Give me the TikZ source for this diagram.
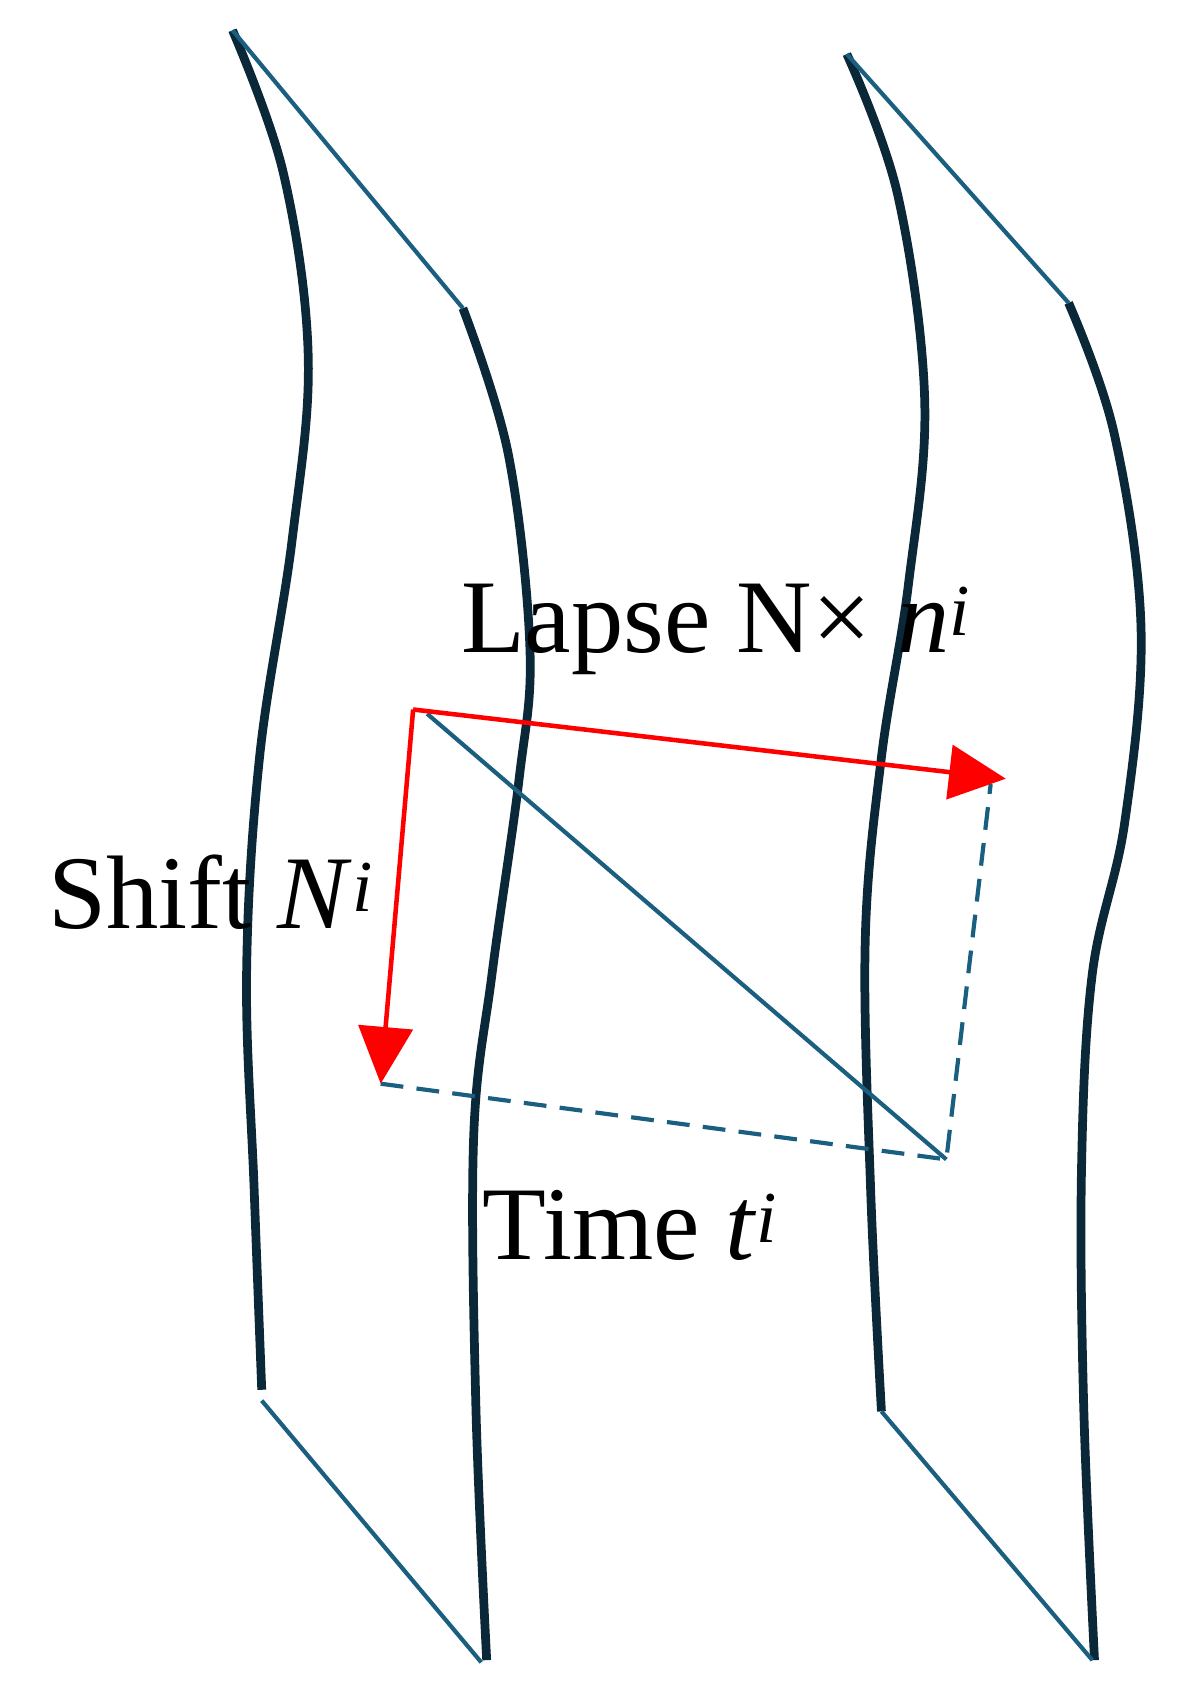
\documentclass[tikz,border=0pt]{standalone}
\usepackage{fontspec}
\setmainfont{Liberation Serif}
\usetikzlibrary{arrows.meta}
\definecolor{dk}{HTML}{0A2838}
\definecolor{bl}{HTML}{1B5F80}
\tikzset{sheet/.style={dk,line width=4.6pt,line join=round},
thin/.style={bl,line width=2.2pt},
redarrow/.style={red,line width=2.4pt,-{Triangle[length=1.05cm,width=1.0cm]}},
lbl/.style={font=\fontsize{55}{64}\selectfont,inner sep=0pt}}
\begin{document}
\begin{tikzpicture}[x=0.02cm,y=-0.02cm]
\useasboundingbox (0,0) rectangle (1090,1570);
\draw[sheet] plot[smooth,tension=0.6] coordinates {(215,28) (262,160) (285,330) (270,500) (240,700) (228,900) (235,1100) (242,1285)};
\draw[sheet] plot[smooth,tension=0.6] coordinates {(428,285) (470,420) (490,600) (480,720) (455,900) (438,1050) (440,1300) (450,1535)};
\draw[sheet] plot[smooth,tension=0.6] coordinates {(783,50) (830,180) (855,370) (840,540) (815,700) (800,870) (805,1100) (815,1305)};
\draw[sheet] plot[smooth,tension=0.6] coordinates {(988,280) (1030,400) (1055,580) (1040,760) (1010,900) (1000,1080) (1002,1300) (1012,1535)};
\coordinate (a1) at (215,28); \coordinate (a2) at (428,285);
\coordinate (b1) at (242,1295); \coordinate (b2) at (445,1537);
\coordinate (c1) at (783,50); \coordinate (c2) at (988,280);
\coordinate (d1) at (815,1305); \coordinate (d2) at (1010,1535);
\draw[thin] (a1)--(a2); \draw[thin] (b1)--(b2);
\draw[thin] (c1)--(c2); \draw[thin] (d1)--(d2);
\coordinate (o) at (382,656);
\coordinate (L) at (930,720);
\coordinate (S) at (352,1002);
\coordinate (dg) at (395,660);
\coordinate (T) at (875,1072);
\coordinate (Lb) at (916,725);
\draw[thin] (dg)--(T);
\draw[thin,dashed,dash pattern=on 12pt off 7pt] (S)--(T)--(Lb);
\draw[redarrow] (o)--(L);
\draw[redarrow] (o)--(S);
\node[lbl] (lapse) at (662,582) {Lapse N× \textit{n}\textsuperscript{\textit{i}}};
\node[lbl] (shift) at (195,825) {Shift \textit{N}\textsuperscript{\textit{i}}};
\node[lbl] (time) at (583,1133) {Time \textit{t}\textsuperscript{\textit{i}}};
\end{tikzpicture}
\end{document}
